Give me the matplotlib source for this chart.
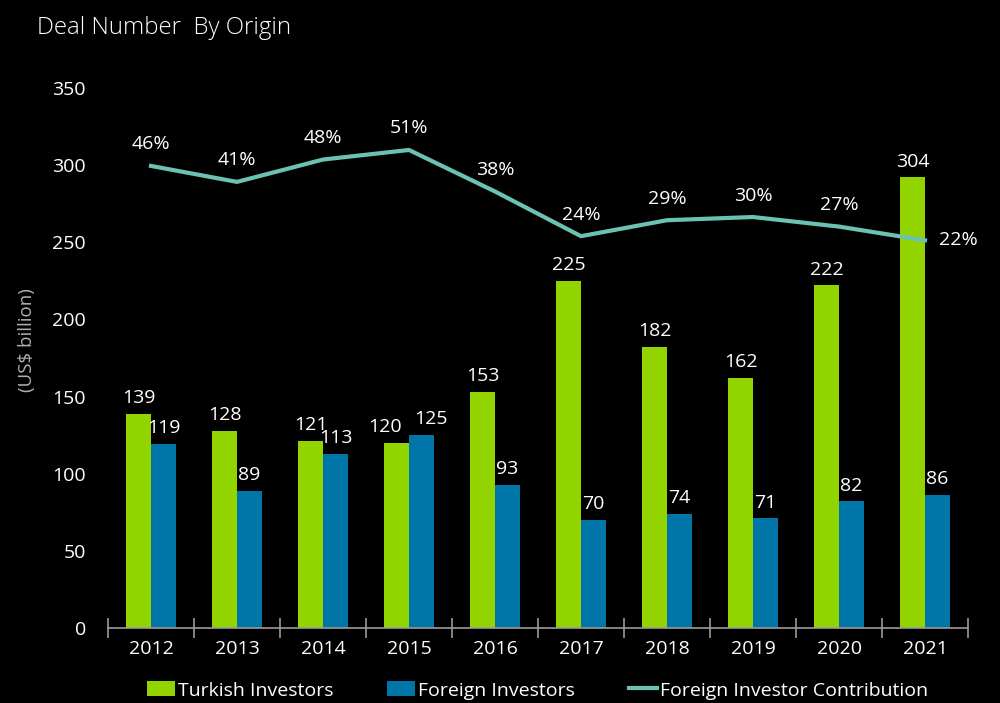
import matplotlib.pyplot as plt
import numpy as np

years = ['2012', '2013', '2014', '2015', '2016', '2017', '2018', '2019', '2020', '2021']
turkish = [139, 128, 121, 120, 153, 225, 182, 162, 222, 292]
turkish_labels = ['139', '128', '121', '120', '153', '225', '182', '162', '222', '304']
foreign = [119, 89, 113, 125, 93, 70, 74, 71, 82, 86]
contribution = [46, 41, 48, 51, 38, 24, 29, 30, 27, 22.7]
contribution_labels = ['46%', '41%', '48%', '51%', '38%', '24%', '29%', '30%', '27%', '22%']

green = '#92d400'
blue = '#0076a8'
teal = '#6cc2b2'

plt.rcParams['font.family'] = ['Open Sans', 'DejaVu Sans']

fig = plt.figure(figsize=(10, 7.03), dpi=100, facecolor='black')
ax = fig.add_axes([0.108, 0.1067, 0.86, 0.7681], facecolor='black')

x = np.arange(len(years))
w = 0.29
ax.bar(x - w / 2, turkish, w, color=green, label='Turkish Investors')
ax.bar(x + w / 2, foreign, w, color=blue, label='Foreign Investors')

for i in range(len(years)):
    # nudge apart the two labels that sit next to each other
    dx1, dx2 = (-8, 7) if i == 3 else (0, 0)
    ax.annotate(turkish_labels[i], (x[i] - w / 2, turkish[i]), xytext=(dx1, 5),
                textcoords='offset points', ha='center', va='bottom', color='white', fontsize=14)
    ax.annotate(str(foreign[i]), (x[i] + w / 2, foreign[i]), xytext=(dx2, 5),
                textcoords='offset points', ha='center', va='bottom', color='white', fontsize=14)

ax.set_xlim(-0.5, len(years) - 0.5)
ax.set_ylim(0, 350)
ax.set_yticks(range(0, 351, 50))
ax.set_xticks(x)
ax.set_xticklabels(years)
ax.set_xticks(np.arange(-0.5, len(years), 1), minor=True)
ax.tick_params(axis='x', which='major', length=0, colors='white', labelsize=14, pad=9)
ax.tick_params(axis='x', which='minor', length=15, direction='inout', color='#9a9a9a', width=1.2)
ax.tick_params(axis='y', length=0, labelcolor='white', labelsize=14, pad=16)
for s in ['top', 'right', 'left']:
    ax.spines[s].set_visible(False)
ax.spines['bottom'].set_color('#9a9a9a')
ax.spines['bottom'].set_linewidth(1.2)

fig.text(0.027, 0.516, '(US$ billion)', color='#b0b0b0', fontsize=13.5, rotation=90,
         ha='center', va='center')

# line on hidden secondary axis
ax2 = ax.twinx()
ax2.set_ylim(-98.7, 70.4)
ax2.axis('off')
ax2.plot(x, contribution, color=teal, lw=3, label='Foreign Investor Contribution')
for i in range(len(years)):
    if i == len(years) - 1:
        ax2.annotate(contribution_labels[i], (x[i], contribution[i]), xytext=(10, 0),
                     textcoords='offset points', ha='left', va='center', color='white', fontsize=14)
    else:
        ax2.annotate(contribution_labels[i], (x[i], contribution[i]), xytext=(0, 9),
                     textcoords='offset points', ha='center', va='bottom', color='white', fontsize=14)

fig.text(0.037, 0.977, 'Deal Number  By Origin', color='white', fontsize=17.3,
         fontweight='light', va='top', ha='left')

h1, l1 = ax.get_legend_handles_labels()
h2, l2 = ax2.get_legend_handles_labels()
leg = fig.legend(h1 + h2, l1 + l2, loc='lower center', bbox_to_anchor=(0.5375, -0.02),
                 ncol=3, frameon=False, fontsize=14, handlelength=1.45, handleheight=0.8,
                 columnspacing=2.75, handletextpad=0.15)
for t in leg.get_texts():
    t.set_color('white')

fig.savefig('out.png', dpi=100, facecolor='black')
